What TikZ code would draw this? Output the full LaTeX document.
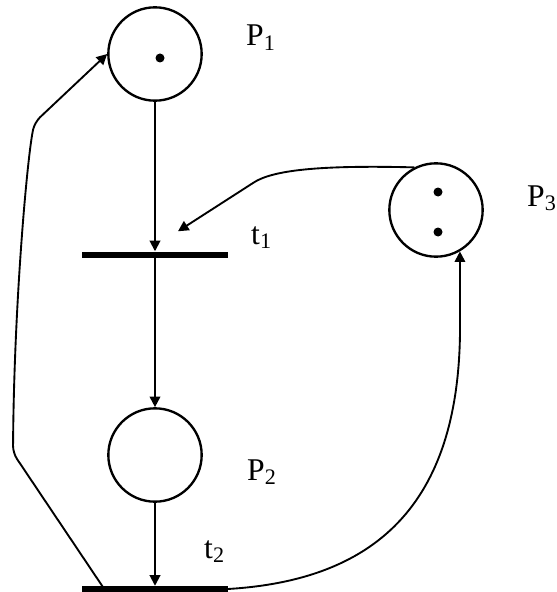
\documentclass[tikz,border=0pt]{standalone}
\usepackage{fontspec}
\setmainfont{Liberation Serif}
\usetikzlibrary{arrows.meta,calc}

\begin{document}
\begin{tikzpicture}[x=0.03cm,y=-0.03cm,>={Triangle[length=9pt,width=9pt]},
  place/.style={circle,draw,line width=2pt,minimum size=2.8cm,inner sep=0pt},
  trans/.style={fill=black,minimum width=4.35cm,minimum height=0.18cm,inner sep=0pt},
  token/.style={circle,fill=black,minimum size=0.27cm,inner sep=0pt},
  arc/.style={->,line width=1.6pt},
  lbl/.style={anchor=base west,inner sep=0pt,font=\fontsize{27}{31}\selectfont}]
  \useasboundingbox (0,0) rectangle (556,592);
  % places and transitions
  \node[place] (p1) at (155,54) {};
  \node[place] (p2) at (155,455) {};
  \node[place] (p3) at (436,210) {};
  \node[trans] (t1) at (155,254.5) {};
  \node[trans] (t2) at (155,589) {};
  % tokens
  \node[token] (k1) at (160,58) {};
  \node[token] (k2) at (438,192) {};
  \node[token] (k3) at (438,232) {};
  % labels
  \node[lbl] (l1) at (246,46) {P\textsubscript{1}};
  \node[lbl] (l2) at (247,480) {P\textsubscript{2}};
  \node[lbl] (l3) at (527,206) {P\textsubscript{3}};
  \node[lbl] (lt1) at (251,244) {t\textsubscript{1}};
  \node[lbl] (lt2) at (204,558) {t\textsubscript{2}};
  % arcs
  \draw[arc] (p1) -- (t1.north);
  \draw[arc] (t1.south) -- (p2);
  \draw[arc] (p2) -- (t2.north);
  \draw[arc] (p3.117) .. controls (320,165) and (272,170) .. (253,183) -- ($(t1.north)+(23,-20)$);
  \draw[arc] (t2.east) .. controls (380,580) and (462,500) .. (460,320) -- (p3.300);
  \draw[arc,rounded corners=6pt] ($(t2.west)+(22,0)$) -- (13,453) .. controls (14,300) and (28,150) .. (35,122) -- (p1.west);
\end{tikzpicture}
\end{document}
